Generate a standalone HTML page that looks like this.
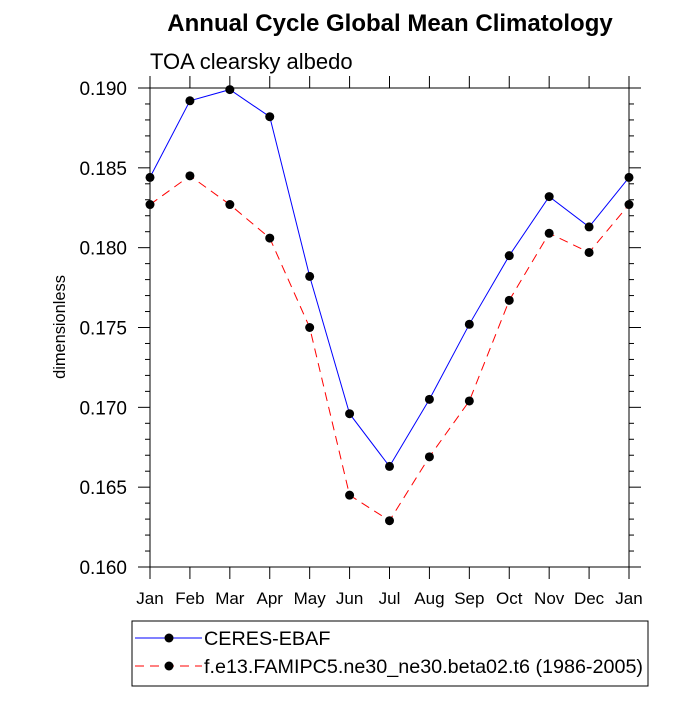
<!DOCTYPE html>
<html><head><meta charset="utf-8"><style>
body{margin:0;background:#fff}
svg text{font-family:"Liberation Sans",Arial,sans-serif}
</style></head><body>
<svg id="c" width="700" height="700" xmlns="http://www.w3.org/2000/svg">
<text x="390" y="31" text-anchor="middle" font-size="24" font-weight="bold">Annual Cycle Global Mean Climatology</text>
<text x="150" y="69" font-size="22">TOA clearsky albedo</text>
<text transform="translate(65,327) rotate(-90)" text-anchor="middle" font-size="16.4">dimensionless</text>
<rect x="150" y="88" width="479" height="479" fill="none" stroke="#000" stroke-width="1"/>
<g id="axes"></g>
<g id="series"></g>
<rect x="132" y="621" width="516" height="65" fill="none" stroke="#000" stroke-width="1"/>
<g>
<line x1="135" y1="638" x2="202" y2="638" stroke="#00f" stroke-width="1"/>
<circle cx="169" cy="638" r="4.5" fill="#000"/>
<text x="204" y="645" font-size="19.8">CERES-EBAF</text></g>
<g>
<line x1="135" y1="666" x2="202" y2="666" stroke="#f00" stroke-width="1" stroke-dasharray="9,6"/>
<circle cx="169" cy="666" r="4.5" fill="#000"/>
<text x="204" y="673" font-size="19.8" textLength="439" lengthAdjust="spacingAndGlyphs">f.e13.FAMIPC5.ne30_ne30.beta02.t6 (1986-2005)</text></g>
</svg>
<script>
const months=["Jan","Feb","Mar","Apr","May","Jun","Jul","Aug","Sep","Oct","Nov","Dec","Jan"];
const ceres=[0.1844,0.1892,0.1899,0.1882,0.1782,0.1696,0.1663,0.1705,0.1752,0.1795,0.1832,0.1813,0.1844];
const model=[0.1827,0.1845,0.1827,0.1806,0.1750,0.1645,0.1629,0.1669,0.1704,0.1767,0.1809,0.1797,0.1827];
const yTicks=["0.160","0.165","0.170","0.175","0.180","0.185","0.190"];
const X0=150,X1=629,Y0=567,Y1=88,YMIN=0.160,YMAX=0.190;
const xs=i=>X0+(X1-X0)*i/(months.length-1);
const ys=v=>Y0-(v-YMIN)/(YMAX-YMIN)*(Y0-Y1);
const NS="http://www.w3.org/2000/svg";
function mk(t,a,p){const e=document.createElementNS(NS,t);for(const k in a)e.setAttribute(k,a[k]);p.appendChild(e);return e;}
const ax=document.getElementById("axes");
months.forEach((m,i)=>{const x=xs(i);
mk("line",{x1:x,y1:Y0,x2:x,y2:Y0+12,stroke:"#000"},ax);
mk("line",{x1:x,y1:Y1,x2:x,y2:Y1-12,stroke:"#000"},ax);
const t=mk("text",{x:x,y:604,"text-anchor":"middle","font-size":"17"},ax);t.textContent=m;

});
for(let k=0;k<=30;k++){const v=YMIN+k*0.001,y=ys(v),maj=k%5==0;const L=maj?12:5;
mk("line",{x1:X0-L,y1:y,x2:X0,y2:y,stroke:"#000"},ax);
mk("line",{x1:X1,y1:y,x2:X1+L,y2:y,stroke:"#000"},ax);}
yTicks.forEach(s=>{const t=mk("text",{x:127,y:ys(parseFloat(s))+7,"text-anchor":"end","font-size":"19"},ax);t.textContent=s;

});
const sg=document.getElementById("series");
function draw(d,col,dash,name){const g=mk("g",{},sg);


mk("polyline",{points:d.map((v,i)=>xs(i)+","+ys(v)).join(" "),fill:"none",stroke:col,"stroke-width":1,"stroke-dasharray":dash},g);
d.forEach((v,i)=>{const c=mk("circle",{cx:xs(i),cy:ys(v),r:4.5,fill:"#000"},g);

});}
draw(model,"#f00","9,6","model-series");
draw(ceres,"#00f","none","ceres-series");
</script>
</body></html>
